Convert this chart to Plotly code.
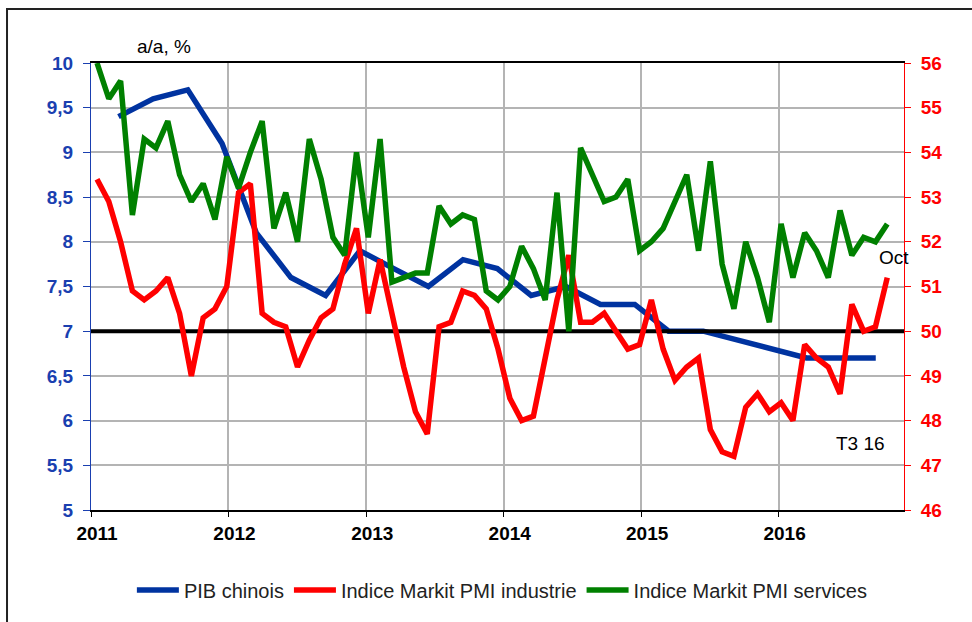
import plotly.graph_objects as go
import pandas as pd

# ---------------- data ----------------
# Monthly PMI series, Mar 2011 -> Oct 2016
pmi_months = [p.strftime("%Y-%m") for p in pd.period_range("2011-03", "2016-10", freq="M")]

pmi_industrie = [
    53.4, 52.9, 52.0, 50.9, 50.7, 50.9, 51.2, 50.4, 49.0, 50.3,              # 2011 (Mar-Dec)
    50.5, 51.0, 53.1, 53.3, 50.4, 50.2, 50.1, 49.2, 49.8, 50.3, 50.5, 51.5,  # 2012
    52.3, 50.4, 51.6, 50.4, 49.2, 48.2, 47.7, 50.1, 50.2, 50.9, 50.8, 50.5,  # 2013
    49.6, 48.5, 48.0, 48.1, 49.4, 50.7, 51.7, 50.2, 50.2, 50.4, 50.0, 49.6,  # 2014
    49.7, 50.7, 49.6, 48.9, 49.2, 49.4, 47.8, 47.3, 47.2, 48.3, 48.6, 48.2,  # 2015
    48.4, 48.0, 49.7, 49.4, 49.2, 48.6, 50.6, 50.0, 50.1, 51.2,              # 2016 (Jan-Oct)
]

pmi_services = [
    56.0, 55.2, 55.6, 52.6, 54.3, 54.1, 54.7, 53.5, 52.9, 53.3,              # 2011 (Mar-Dec)
    52.5, 53.9, 53.2, 54.0, 54.7, 52.3, 53.1, 52.0, 54.3, 53.4, 52.1, 51.7,  # 2012
    54.0, 52.1, 54.3, 51.1, 51.2, 51.3, 51.3, 52.8, 52.4, 52.6, 52.5, 50.9,  # 2013
    50.7, 51.0, 51.9, 51.4, 50.7, 53.1, 50.0, 54.1, 53.5, 52.9, 53.0, 53.4,  # 2014
    51.8, 52.0, 52.3, 52.9, 53.5, 51.8, 53.8, 51.5, 50.5, 52.0, 51.2, 50.2,  # 2015
    52.4, 51.2, 52.2, 51.8, 51.2, 52.7, 51.7, 52.1, 52.0, 52.4,              # 2016 (Jan-Oct)
]

# Quarterly GDP (y/y %), Q1 2011 -> Q3 2016
gdp_dates = [
    "2011-03-15", "2011-06-15", "2011-09-15", "2011-12-15",
    "2012-03-15", "2012-06-15", "2012-09-15", "2012-12-15",
    "2013-03-15", "2013-06-15", "2013-09-15", "2013-12-15",
    "2014-03-15", "2014-06-15", "2014-09-15", "2014-12-15",
    "2015-03-15", "2015-06-15", "2015-09-15", "2015-12-15",
    "2016-03-15", "2016-06-15", "2016-09-15",
]
gdp = [9.4, 9.6, 9.7, 9.1, 8.1, 7.6, 7.4, 7.9, 7.7, 7.5, 7.8, 7.7,
       7.4, 7.5, 7.3, 7.3, 7.0, 7.0, 6.9, 6.8, 6.7, 6.7, 6.7]

year_ticks = ["2011-01-01", "2012-01-01", "2013-01-01", "2014-01-01", "2015-01-01", "2016-01-01"]
year_labels = ["2011", "2012", "2013", "2014", "2015", "2016"]

ref_level = 7.0
x_start, x_end = "2011-01-01", "2016-11-29"

FONT = "Liberation Sans, Arial, sans-serif"
BLUE = "#0033a0"
AXBLUE = "#1a3fb0"
RED = "#ff0000"
GREEN = "#008000"
GRID = "#b4b4b4"

fig = go.Figure()

fig.add_trace(go.Scatter(x=gdp_dates, y=gdp, name="PIB chinois", mode="lines",
                         line=dict(color=BLUE, width=5.5), xaxis="x", yaxis="y"))
fig.add_trace(go.Scatter(x=[x_start, x_end], y=[ref_level, ref_level], mode="lines",
                         line=dict(color="black", width=4), showlegend=False,
                         hoverinfo="skip", xaxis="x", yaxis="y"))
fig.add_trace(go.Scatter(x=pmi_months, y=pmi_industrie, name="Indice Markit PMI industrie",
                         mode="lines", line=dict(color=RED, width=5.5), xaxis="x2", yaxis="y2"))
fig.add_trace(go.Scatter(x=pmi_months, y=pmi_services, name="Indice Markit PMI services",
                         mode="lines", line=dict(color=GREEN, width=5.5), xaxis="x2", yaxis="y2"))

fig.update_layout(
    width=972, height=622, autosize=False,
    margin=dict(l=91, r=68, t=63, b=112),
    paper_bgcolor="white", plot_bgcolor="white",
    separators=", ",
    font=dict(family=FONT, size=19, color="black"),
    xaxis=dict(type="date", range=[x_start, x_end],
               tickvals=year_ticks, ticktext=year_labels,
               ticks="outside", ticklen=5, tickcolor="black", tickwidth=1,
               showgrid=True, gridcolor=GRID, gridwidth=1.5,
               showline=True, linecolor="black", linewidth=1.5, mirror=True,
               zeroline=False, ticklabelshift=6,
               tickfont=dict(family=FONT, size=19, color="black", weight="bold")),
    xaxis2=dict(type="category", overlaying="x", range=[-0.51, 68.42],
                visible=False, showgrid=False),
    yaxis=dict(range=[5, 10], tick0=5, dtick=0.5,
               ticks="outside", ticklen=7, tickcolor=AXBLUE, tickwidth=1,
               showgrid=True, gridcolor=GRID, gridwidth=1.5,
               showline=True, linecolor=AXBLUE, linewidth=1,
               zeroline=False, ticklabelstandoff=6,
               tickfont=dict(family=FONT, size=19, color=AXBLUE, weight="bold")),
    yaxis2=dict(range=[46, 56], tick0=46, dtick=1, overlaying="y", side="right",
                ticks="outside", ticklen=6, tickcolor=RED, tickwidth=1,
                showgrid=False, showline=True, linecolor=RED, linewidth=1,
                zeroline=False, ticklabelstandoff=6,
                tickfont=dict(family=FONT, size=19, color=RED, weight="bold")),
    legend=dict(orientation="h", x=0.506, xanchor="center", y=-0.179, yanchor="middle",
                font=dict(family=FONT, size=20, color="#222222"),
                itemwidth=42, bgcolor="rgba(0,0,0,0)"),
    showlegend=True,
)

fig.add_annotation(text="a/a, %", xref="paper", yref="paper", x=0.0898, y=1.0358,
                   xanchor="center", yanchor="middle", showarrow=False,
                   font=dict(family=FONT, size=19, color="black"))
fig.add_annotation(text="Oct", xref="paper", yref="paper", x=0.9668, y=0.5638,
                   xanchor="left", yanchor="middle", showarrow=False,
                   font=dict(family=FONT, size=19, color="black"))
fig.add_annotation(text="T3 16", xref="paper", yref="paper", x=0.947, y=0.1477,
                   xanchor="center", yanchor="middle", showarrow=False,
                   font=dict(family=FONT, size=19, color="black"))

# outer frame of the chart
fig.add_shape(type="rect", xref="paper", yref="paper",
              x0=-0.1033, x1=1.0935, y0=-0.291, y1=1.1208,
              line=dict(color="#222222", width=2), fillcolor="rgba(0,0,0,0)")

fig.write_html("out.html", config={"displayModeBar": False},
               post_script="document.body.style.margin='0px';document.body.style.overflow='hidden';")
